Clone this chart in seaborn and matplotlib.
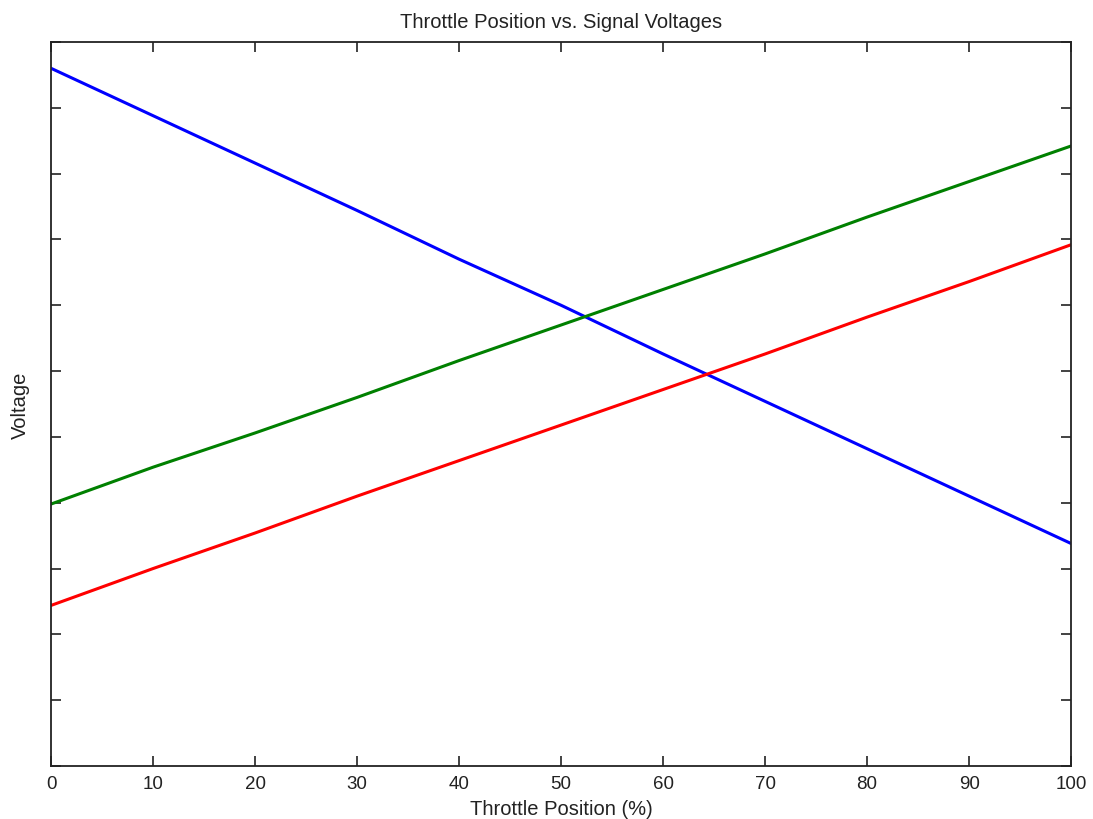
import matplotlib
matplotlib.use("Agg")
import matplotlib.pyplot as plt
import seaborn as sns
import pandas as pd

throttle = [0, 10, 20, 30, 40, 50, 60, 70, 80, 90, 100]
signal_blue = [5.30, 4.94, 4.58, 4.22, 3.85, 3.50, 3.13, 2.77, 2.41, 2.05, 1.69]
signal_green = [1.99, 2.27, 2.53, 2.80, 3.08, 3.35, 3.62, 3.89, 4.17, 4.44, 4.71]
signal_red = [1.22, 1.50, 1.77, 2.05, 2.32, 2.59, 2.86, 3.13, 3.41, 3.68, 3.96]

series_names = ["Signal 1", "Signal 2", "Signal 3"]
colors = ["#0000ff", "#008000", "#ff0000"]

df = pd.concat([
    pd.DataFrame({"Throttle": throttle, "Voltage": vals, "Signal": name})
    for name, vals in zip(series_names, [signal_blue, signal_green, signal_red])
])

sns.set_theme(style="white")
plt.rcParams['font.family'] = ['Liberation Sans', 'DejaVu Sans']

fig = plt.figure(figsize=(10.93, 8.2), dpi=100)
ax = fig.add_axes([0.0467, 0.0646, 0.9333, 0.883])

sns.lineplot(data=df, x="Throttle", y="Voltage", hue="Signal", palette=colors,
             linewidth=2.2, legend=False, ax=ax, estimator=None, sort=False)

ax.set_xlim(0, 100)
ax.set_ylim(0, 5.5)
ax.set_xticks(range(0, 101, 10))
ax.set_yticks([i * 0.5 for i in range(12)])
ax.set_yticklabels([])
ax.tick_params(direction="in", length=7, width=1.2, top=True, right=True,
               bottom=True, left=True, labelsize=13.5, colors="#222222", pad=6.5)
for s in ax.spines.values():
    s.set_visible(True)
    s.set_color("#222222")
    s.set_linewidth(1.3)

ax.set_title("Throttle Position vs. Signal Voltages", fontsize=14.5, color="#222222", pad=11)
ax.set_xlabel("Throttle Position (%)", fontsize=14.5, color="#222222", labelpad=5)
ax.set_ylabel("Voltage", fontsize=14.5, color="#222222", labelpad=9)

fig.savefig("out.png", dpi=100, facecolor="white")
